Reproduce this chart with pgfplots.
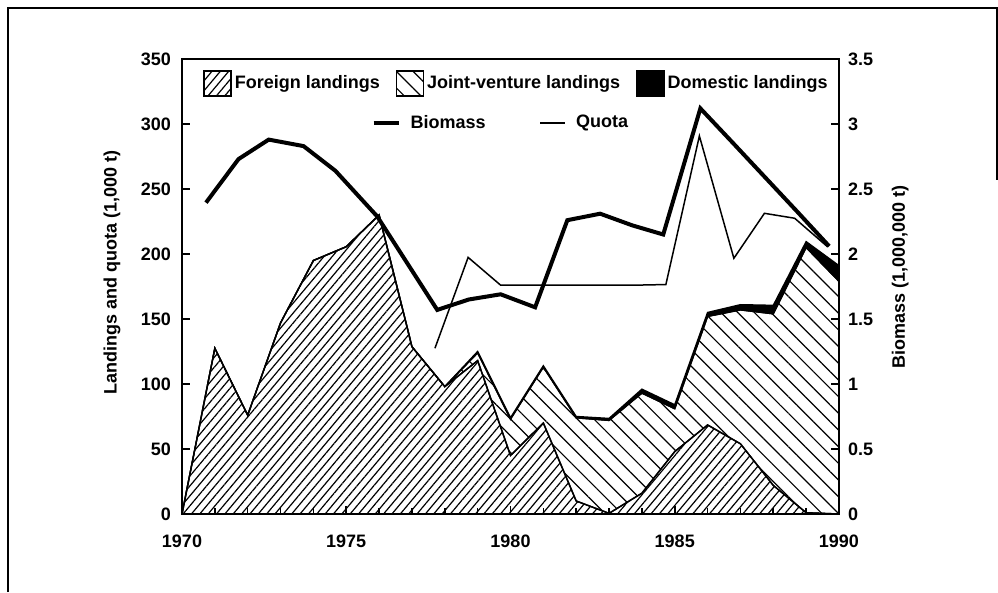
\documentclass[border=0pt]{standalone}
\usepackage{fontspec}
\setmainfont{Liberation Sans}
\usepackage{pgfplots}
\usepackage{pgfplotstable}
\pgfplotsset{compat=1.18}
\usetikzlibrary{patterns.meta}

\pgfplotstableread{
year F J D
1970 0 0 0
1971 127.5 0 0
1972 76 0 0
1973 147 0 0
1974 195 0 0
1975 205.6 0 0
1976 230 0 0
1977 128.7 0 0
1978 98 0 0
1979 118 6 1
1980 45 28 1
1981 70 43 1
1982 10 64 1
1983 0.5 71.5 1.5
1984 16 77 3
1985 48 33 3
1986 68.5 83.5 3
1987 54 103 4
1988 22 132 6.5
1989 1 204 4.5
1990 0 179 12
}\landings

\pgfplotstableread{
x b
1970.73 2.395
1971.72 2.73
1972.64 2.88
1973.70 2.83
1974.67 2.64
1975.94 2.29
1977.77 1.57
1978.73 1.65
1979.70 1.69
1980.75 1.59
1981.73 2.26
1982.73 2.31
1983.71 2.22
1984.65 2.15
1985.78 3.12
1986.75 2.86
1987.75 2.59
1988.75 2.32
1989.70 2.06
}\biomass

\pgfplotstableread{
x q
1977.70 127.5
1978.71 197.4
1979.70 176
1980.73 176
1981.73 176
1982.73 176
1983.73 176
1984.73 176.5
1985.75 290.8
1986.80 196.7
1987.73 231.3
1988.65 227.5
1989.65 205.6
}\quota

\newcommand\lab{\fontsize{9}{10.8}\selectfont\bfseries}

\begin{document}
\begin{tikzpicture}
\pgfplotsset{
  common/.style={
    scale only axis, width=328.5pt, height=227.5pt,
    at={(0,0)}, anchor=south west,
    xmin=1970, xmax=1990,
    /pgf/number format/assume math mode=true,
    /pgf/number format/1000 sep={},
    tick label style={font=\lab},
    label style={font=\lab},
    tick align=inside,
    major tick length=4pt, minor tick length=3pt,
    axis line style={line width=1pt},
    every tick/.style={black, line width=0.8pt},
  }
}
\begin{axis}[common, ymin=0, ymax=350,
  xtick={1970,1975,...,1990}, minor x tick num=4,
  ytick={0,50,100,150,200,250,300,350},
  xtick pos=bottom, ytick pos=left,
  xticklabel style={yshift=-7pt},
  yticklabel style={xshift=-2pt},
  stack plots=y,
  ylabel={Landings and quota (1,000 t)},
  every axis y label/.style={at={(axis description cs:-0.1065,0.53)},rotate=90,anchor=center,font=\lab},
  legend columns=3,
  legend image code/.code={\draw[#1] (0pt,-6.25pt) rectangle (13.5pt,6.25pt);},
  legend style={at={(axis description cs:0.032,0.976)}, anchor=north west,
    draw=none, fill=none, inner sep=0pt, font=\lab,
    nodes={inner sep=1pt},
    /tikz/every odd column/.append style={column sep=0.5pt},
    /tikz/every even column/.append style={column sep=7pt}},
]
\addplot[draw=black, line width=0.7pt, pattern={Lines[angle=50,distance=3.2pt,line width=0.6pt]}]
  table[x=year,y=F]{\landings} \closedcycle;
\addlegendentry{Foreign landings}
\addplot[draw=black, line width=0.7pt, pattern={Lines[angle=-45,distance=5.9pt,line width=0.6pt]}]
  table[x=year,y=J]{\landings} \closedcycle;
\addlegendentry{Joint-venture landings}
\addplot[draw=black, line width=0.7pt, fill=black]
  table[x=year,y=D]{\landings} \closedcycle;
\addlegendentry{Domestic landings}
\end{axis}

\begin{axis}[common, ymin=0, ymax=350, hide axis]
\addplot[black, line width=0.75pt] table[x=x,y=q]{\quota};
\end{axis}

\begin{axis}[common, ymin=0, ymax=3.5,
  axis x line=none, axis y line*=right,
  ytick={0,0.5,1,1.5,2,2.5,3,3.5},
  yticklabel style={xshift=1pt},
  ylabel={Biomass (1,000,000 t)},
  every axis y label/.style={at={(axis description cs:1.093,0.52)},rotate=90,anchor=center,font=\lab},
  legend columns=2,
  legend image code/.code={\draw[#1] (0pt,0pt) -- (12.5pt,0pt);},
  legend style={at={(axis description cs:0.288,0.859)}, anchor=west,
    draw=none, fill=none, inner sep=0pt, font=\lab,
    nodes={inner sep=1pt},
    /tikz/every odd column/.append style={column sep=4pt},
    /tikz/every even column/.append style={column sep=26pt}},
]
\addplot[black, line width=2pt] table[x=x,y=b]{\biomass};
\addlegendentry{Biomass}
\addlegendimage{black, line width=0.75pt}
\addlegendentry{Quota}
\end{axis}

\draw[line width=0.75pt] (-87pt,-39pt) -- (-87pt,253pt) -- (407.5pt,253pt) -- (407.5pt,167pt);
\path[use as bounding box] (-91pt,-39pt) rectangle (408pt,257pt);
\end{tikzpicture}
\end{document}
